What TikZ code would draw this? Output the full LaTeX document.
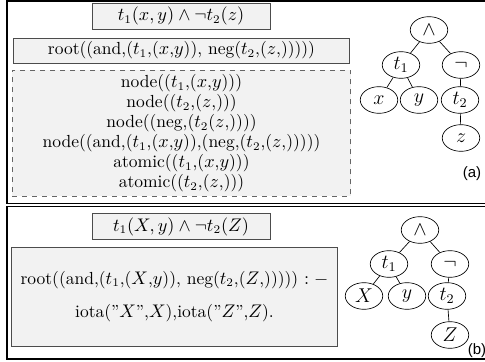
\documentclass[tikz,border=0pt]{standalone}
\usepackage{fontspec}
\newfontfamily\labfont{Liberation Sans}
\usetikzlibrary{shapes.geometric}
\tikzset{
  panel/.style={draw=black, line width=0.8pt},
  fbox/.style={draw=black!70, fill=black!5, inner sep=0pt, font=\fontsize{10.5}{12}\selectfont},
  tnode/.style={draw, ellipse, minimum width=22.5pt, minimum height=16pt, inner sep=0pt, font=\fontsize{11.5}{13}\selectfont},
}
\begin{document}
\begin{tikzpicture}[x=0.6pt, y=-0.6pt]
            \useasboundingbox (0,0) rectangle (485,362);
            % panel (a)
            \draw[panel] (7,1) rectangle (495,203.5);
            \node[fbox, minimum width=107pt, minimum height=15.6pt] (fa) at (181,16) {$t_1(x,y)\land\neg t_2(z)$};
            \node[fbox, minimum width=202pt, minimum height=15pt] (ra) at (181.5,50.5) {root((and,($t_1$,($x$,$y$)), neg($t_2$,($z$,)))))};
            \node[fbox, draw=black!60, dashed, minimum width=203pt, minimum height=75.6pt, align=center] (da) at (181.5,133) {%
              node(($t_1$,($x$,$y$)))\\
              node(($t_2$,($z$,)))\\
              node((neg,($t_2$($z$,))))\\
              node((and,($t_1$,($x$,$y$)),(neg,($t_2$,($z$,)))))\\
              atomic(($t_1$,($x$,$y$)))\\
              atomic(($t_2$,($z$,)))};
            \node[tnode] (anda) at (429,30) {$\land$};
            \node[tnode] (t1a) at (401,65) {$t_1$};
            \node[tnode] (nega) at (461,65) {$\neg$};
            \node[tnode] (xa) at (379,100) {$x$};
            \node[tnode] (ya) at (419,100) {$y$};
            \node[tnode] (t2a) at (460,100) {$t_2$};
            \node[tnode] (za) at (461,138) {$z$};
            \draw (anda) -- (t1a);
            \draw (anda) -- (nega);
            \draw (t1a) -- (xa);
            \draw (t1a) -- (ya);
            \draw (nega) -- (t2a);
            \draw (t2a) -- (za);
            \node (laba) at (472,174) {\labfont\small(a)};
            % panel (b)
            \draw[panel] (7,206.5) rectangle (495,359);
            \node[fbox, minimum width=107pt, minimum height=16pt] (fb) at (181,226.5) {$t_1(X,y)\land\neg t_2(Z)$};
            \node[fbox, minimum width=196pt, minimum height=59.4pt, align=center] (rb) at (174.5,296.5) {%
              root((and,($t_1$,($X$,$y$)), neg($t_2$,($Z$,))))) $:-$\\[8pt]
              iota(''$X$'',$X$),iota(''$Z$'',$Z$).};
            \node[tnode] (andb) at (420,230) {$\land$};
            \node[tnode] (t1b) at (389,264) {$t_1$};
            \node[tnode] (negb) at (450,264) {$\neg$};
            \node[tnode] (xb) at (364,296) {$X$};
            \node[tnode] (yb) at (407,296) {$y$};
            \node[tnode] (t2b) at (447,296) {$t_2$};
            \node[tnode] (zb) at (450,335) {$Z$};
            \draw (andb) -- (t1b);
            \draw (andb) -- (negb);
            \draw (t1b) -- (xb);
            \draw (t1b) -- (yb);
            \draw (negb) -- (t2b);
            \draw (t2b) -- (zb);
            \node (labb) at (477,351) {\labfont\small(b)};
        \end{tikzpicture}
\end{document}
